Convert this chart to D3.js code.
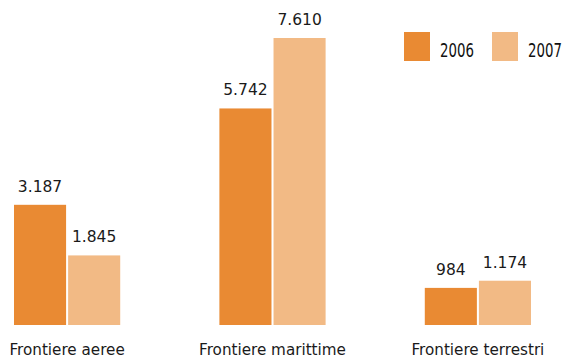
<!DOCTYPE html>
<html><head><meta charset="utf-8">
<script src="https://cdn.jsdelivr.net/npm/d3@7"></script>
<style>body{margin:0;background:#fff}svg{display:block}</style>
</head><body>
<script>
const categories = ["Frontiere aeree", "Frontiere marittime", "Frontiere terrestri"];
const seriesNames = ["2006", "2007"];
const values2006 = [3187, 5742, 984];
const values2007 = [1845, 7610, 1174];
const valueLabels2006 = ["3.187", "5.742", "984"];
const valueLabels2007 = ["1.845", "7.610", "1.174"];
const colors = ["#E98A33", "#F2BA85"];

const W = 564, H = 358;
const svg = d3.select("body").append("svg").attr("width", W).attr("height", H);

const x0 = d3.scaleBand().domain(categories).range([14, 531]).paddingInner(0.4829).paddingOuter(0);
const x = d3.scaleBand().domain(seriesNames).range([0, x0.bandwidth()]).paddingInner(0.0377);
const y = d3.scaleLinear().domain([0, 7610]).range([325, 38]);

const series = [
  {name: seriesNames[0], vals: values2006, labels: valueLabels2006, color: colors[0]},
  {name: seriesNames[1], vals: values2007, labels: valueLabels2007, color: colors[1]}
];

series.forEach(s => {
  const g = svg.append("g");
  g.selectAll("rect").data(categories).join("rect")
    .attr("x", (c) => x0(c) + x(s.name))
    .attr("width", x.bandwidth())
    .attr("y", (c, i) => y(s.vals[i]))
    .attr("height", (c, i) => y(0) - y(s.vals[i]))
    .attr("fill", s.color);
  g.selectAll("text").data(categories).join("text")
    .attr("x", (c) => x0(c) + x(s.name) + x.bandwidth() / 2)
    .attr("y", (c, i) => y(s.vals[i]) - 13)
    .attr("text-anchor", "middle")
    .attr("font-family", "'DejaVu Sans', Verdana, sans-serif")
    .attr("font-size", "15.5px")
    .attr("fill", "#1a1a1a")
    .text((c, i) => s.labels[i]);
});

svg.append("g").selectAll("text").data(categories).join("text")
  .attr("x", c => x0(c) + x0.bandwidth() / 2)
  .attr("y", 355)
  .attr("text-anchor", "middle")
  .attr("font-family", "'DejaVu Sans', Verdana, sans-serif")
  .attr("font-size", "15.2px")
  .attr("fill", "#1a1a1a")
  .text(c => c);

const legendX = d3.scaleOrdinal().domain(seriesNames).range([404, 492]);
const lg = svg.append("g");
lg.selectAll("rect").data(series).join("rect")
  .attr("x", d => legendX(d.name)).attr("y", 32)
  .attr("width", 26).attr("height", 29)
  .attr("fill", d => d.color);
lg.selectAll("text").data(series).join("text")
  .attr("transform", d => `translate(${legendX(d.name) + 36},57) scale(0.78,1)`)
  .attr("font-family", "'DejaVu Sans Condensed', 'DejaVu Sans', sans-serif")
  .attr("font-size", "19px")
  .attr("fill", "#111")
  .text(d => d.name);
</script>
</body></html>
